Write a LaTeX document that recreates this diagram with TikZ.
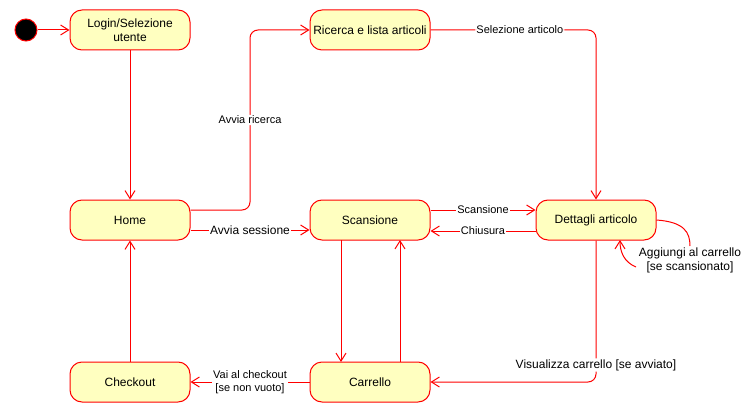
\documentclass[tikz,border=0pt]{standalone}
\usepackage{fontspec}
\setmainfont{Liberation Sans}
\usetikzlibrary{arrows.meta,calc}
\definecolor{stfill}{RGB}{255,255,192}
\begin{document}
\begin{tikzpicture}[x=1pt,y=-1pt,
  state/.style={draw=red, fill=stfill, line width=1pt, rounded corners=12pt,
    minimum width=120pt, minimum height=40pt, inner sep=0pt, align=center,
    font=\fontsize{12}{13.5}\selectfont},
  edge/.style={draw=red, line width=1pt, -{Straight Barb[length=8pt,width=10pt]}},
  plain/.style={draw=red, line width=1pt},
  lab/.style={fill=white, inner sep=1pt, align=center, font=\fontsize{11}{13}\selectfont},
  labb/.style={fill=white, inner sep=1pt, align=center, font=\fontsize{12}{14}\selectfont}]
\useasboundingbox (0,0) rectangle (754,414);
\node[circle, fill=black, draw=red, line width=1pt, minimum size=22pt, inner sep=0pt] (init) at (26,30) {};
\node[state] (login) at (130,30) {Login/Selezione\\utente};
\node[state] (ricerca) at (370,30) {Ricerca e lista articoli};
\node[state] (home) at (130,220) {Home};
\node[state] (scan) at (370,220) {Scansione};
\node[state] (dett) at (596,220) {Dettagli articolo};
\node[state] (checkout) at (130,382) {Checkout};
\node[state] (carrello) at (370,382) {Carrello};

\draw[edge] (init) -- (login);
\draw[edge] (login) -- (home);
\draw[edge, rounded corners=8pt] ([yshift=10pt]home.east) -- (250,210) -- node[lab]{Avvia ricerca} (250,30) -- (ricerca.west);
\draw[edge, rounded corners=8pt] (ricerca.east) -- node[lab, pos=0.54]{Selezione articolo} (596,30) -- (dett.north);
\draw[edge] ([yshift=-10pt]home.east) -- node[labb]{Avvia sessione} ([yshift=-10pt]scan.west);
\draw[edge] ([yshift=10pt]scan.east) -- node[lab]{Scansione} ([yshift=10pt]dett.west);
\draw[edge] ([yshift=-11pt]dett.west) -- node[lab]{Chiusura} ([yshift=-11pt]scan.east);
\node[labb, fill=none] (aglab) at (690,260) {Aggiungi al carrello\\{}[se scansionato]};
\coordinate (ag1) at (690,246);
\coordinate (ag2) at (636,267);
\coordinate (dbot) at (620,240);
\draw[plain] (dett.east) .. controls (684,222) and (690,232) .. (ag1);
\draw[edge] (ag2) .. controls (624,262) and (620,252) .. (dbot);
\draw[edge, rounded corners=8pt] (dett.south) -- node[labb, pos=0.88]{Visualizza carrello [se avviato]} (596,382) -- (carrello.east);
\draw[edge] (341,240) -- (341,362);
\draw[edge] (400,362) -- (400,240);
\draw[edge] (carrello.west) -- node[lab]{Vai al checkout\\{}[se non vuoto]} (checkout.east);
\draw[edge] (checkout) -- (home);
\end{tikzpicture}
\end{document}
